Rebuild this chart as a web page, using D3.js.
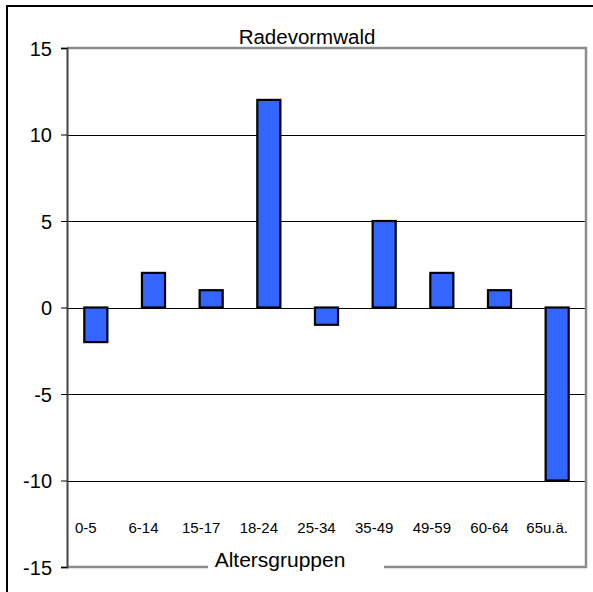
<!DOCTYPE html>
<html><head><meta charset="utf-8">
<script src="https://cdn.jsdelivr.net/npm/d3@7"></script>
<style>body{margin:0;background:#fff}svg{display:block;font-family:"Liberation Sans",Arial,sans-serif}</style>
</head><body>
<script>
const categories = ["0-5","6-14","15-17","18-24","25-34","35-49","49-59","60-64","65u.ä."];
const values = [-2, 2, 1, 12, -1, 5, 2, 1, -10];
const yTicks = [15, 10, 5, 0, -5, -10, -15];
const chartTitle = "Radevormwald";
const xTitle = "Altersgruppen";

const W = 593, H = 592;
const L = 67, R = 586, T = 48, B = 567;

const svg = d3.select("body").append("svg").attr("width", W).attr("height", H);

// outer frame
svg.append("rect").attr("x", 7).attr("y", 6).attr("width", 620).attr("height", 620)
  .attr("fill", "none").attr("stroke", "#000").attr("stroke-width", 2);

const x = d3.scaleBand().domain(categories).range([L, R]).paddingInner(0.6).paddingOuter(0.3);
const xc = d3.scaleBand().domain(categories).range([L, R]);
const y = d3.scaleLinear().domain([-15, 15]).range([B, T]);
const crisp = v => Math.round(y(v)) + 0.5;

// gridlines
svg.append("g").selectAll("line").data(yTicks.filter(v => v > -15 && v < 15)).join("line")
  .attr("x1", L).attr("x2", R).attr("y1", d => crisp(d)).attr("y2", d => crisp(d))
  .attr("stroke", "#000").attr("stroke-width", 1);

// plot border (top, right, bottom)
svg.append("path")
  .attr("d", `M${L},${T}H${R}V${B}H${L}`)
  .attr("fill", "none").attr("stroke", "#8c8c8c").attr("stroke-width", 2.5);

// y axis
const yAxis = d3.axisLeft(y).tickValues(yTicks).tickSize(6).tickPadding(9).tickFormat(d => String(d));
const gy = svg.append("g").attr("transform", `translate(${L},0)`).call(yAxis);
gy.select(".domain").attr("stroke", "#444").attr("stroke-width", 2);
gy.selectAll(".tick line").attr("stroke", "#000");
gy.selectAll(".tick text").attr("font-size", 20).attr("fill", "#000")
  .attr("font-family", '"Liberation Sans",Arial,sans-serif').attr("dy", "0.35em");

// bars
svg.append("g").selectAll("rect").data(values).join("rect")
  .attr("x", (d, i) => x(categories[i]))
  .attr("width", x.bandwidth())
  .attr("y", d => y(Math.max(0, d)))
  .attr("height", d => Math.abs(y(d) - y(0)))
  .attr("fill", "#3366ff").attr("stroke", "#000").attr("stroke-width", 2.2);

// category labels
svg.append("g").selectAll("text").data(categories).join("text")
  .attr("x", d => xc(d) + xc.bandwidth() / 2 - 10)
  .attr("y", 533)
  .attr("text-anchor", "middle").attr("font-size", 15).attr("fill", "#000")
  .text(d => d);

// x axis title with white background
svg.append("rect").attr("x", 208).attr("y", 545).attr("width", 176).attr("height", 28).attr("fill", "#fff");
svg.append("text").attr("x", 280).attr("y", 567).attr("text-anchor", "middle")
  .attr("font-size", 21).attr("fill", "#000").text(xTitle);

// title
svg.append("text").attr("x", 307).attr("y", 44).attr("text-anchor", "middle")
  .attr("font-size", 20.5).attr("fill", "#000").text(chartTitle);
</script>
</body></html>
